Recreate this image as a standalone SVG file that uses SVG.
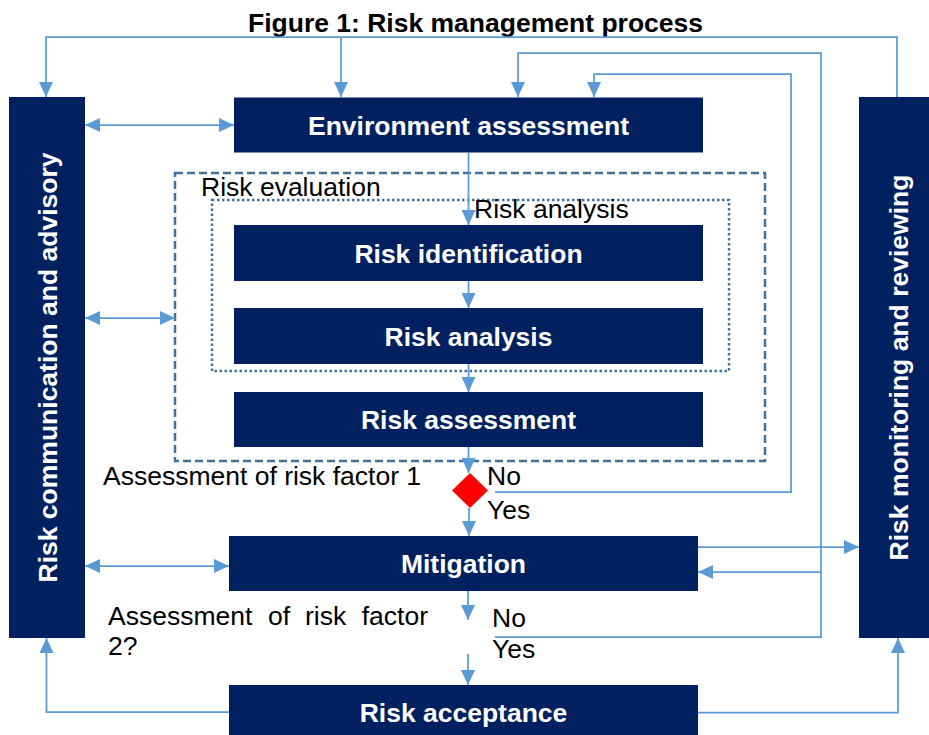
<svg xmlns="http://www.w3.org/2000/svg" width="929" height="735" viewBox="0 0 929 735">
<style>
.box{fill:#002060;}
.bt{font-family:"Liberation Sans",Arial,sans-serif;font-weight:bold;font-size:26.5px;fill:#ffffff;text-anchor:middle;}
.lbl{font-family:"Liberation Sans",Arial,sans-serif;font-size:26.5px;fill:#000000;}
.title{font-family:"Liberation Sans",Arial,sans-serif;font-weight:bold;font-size:26.5px;fill:#000000;text-anchor:middle;}
.ln{fill:none;stroke:#5b9bd5;stroke-width:1.75;}
.dash{fill:none;stroke:#41719c;stroke-width:2.5;stroke-dasharray:8 4;}
.dot{fill:none;stroke:#41719c;stroke-width:2.5;stroke-dasharray:2.5 2.5;}
</style>
<defs>
<marker id="ah" markerUnits="userSpaceOnUse" markerWidth="15" markerHeight="14" refX="15" refY="7" orient="auto-start-reverse" viewBox="0 0 15 14">
<path d="M0,0 L15,7 L0,14 Z" fill="#5b9bd5"/>
</marker>
</defs>
<rect width="929" height="735" fill="#ffffff"/>
<text class="title" x="475.5" y="31.5">Figure 1: Risk management process</text>

<g id="risk-evaluation-frame">
<rect class="dash" x="175" y="173" width="590" height="288"/>
<text class="lbl" x="201" y="196">Risk evaluation</text>
</g>
<g id="risk-analysis-frame">
<rect class="dot" x="212" y="200" width="517" height="171"/>
<text class="lbl" x="474" y="218">Risk analysis</text>
</g>

<g id="connectors">
<path class="ln" d="M897,97 V37 H46 V97" marker-end="url(#ah)"/>
<path class="ln" d="M341,37 V97" marker-end="url(#ah)"/>
<path class="ln" d="M495,637 H821 V53 H518 V97" marker-end="url(#ah)"/>
<path class="ln" d="M495,492 H791 V74 H594 V97" marker-end="url(#ah)"/>
<path class="ln" d="M85,125 H234" marker-start="url(#ah)" marker-end="url(#ah)"/>
<path class="ln" d="M85,318 H175" marker-start="url(#ah)" marker-end="url(#ah)"/>
<path class="ln" d="M85,566 H229" marker-start="url(#ah)" marker-end="url(#ah)"/>
<path class="ln" d="M468.5,153 V225" marker-end="url(#ah)"/>
<path class="ln" d="M468.5,281 V308" marker-end="url(#ah)"/>
<path class="ln" d="M468.5,364 V392" marker-end="url(#ah)"/>
<path class="ln" d="M468.5,447 V473" marker-end="url(#ah)"/>
<path class="ln" d="M469,508 V536" marker-end="url(#ah)"/>
<path class="ln" d="M468,591 V620" marker-end="url(#ah)"/>
<path class="ln" d="M468,654 V685" marker-end="url(#ah)"/>
<path class="ln" d="M698,547 H859" marker-end="url(#ah)"/>
<path class="ln" d="M821,572 H698" marker-end="url(#ah)"/>
<path class="ln" d="M229,712 H46.5 V638" marker-end="url(#ah)"/>
<path class="ln" d="M698,712.5 H898 V638" marker-end="url(#ah)"/>
</g>

<g id="risk-communication">
<rect class="box" x="9" y="97" width="76" height="541"/>
<text class="bt" transform="translate(56.5,367.5) rotate(-90)">Risk communication and advisory</text>
</g>
<g id="risk-monitoring">
<rect class="box" x="859" y="97" width="80" height="541"/>
<text class="bt" transform="translate(908,367.5) rotate(-90)">Risk monitoring and reviewing</text>
</g>
<g id="environment-assessment">
<rect class="box" x="234" y="97.5" width="469" height="55"/>
<text class="bt" x="468.5" y="135">Environment assessment</text>
</g>
<g id="risk-identification">
<rect class="box" x="234" y="225" width="469" height="56"/>
<text class="bt" x="468.5" y="262.5">Risk identification</text>
</g>
<g id="risk-analysis">
<rect class="box" x="234" y="308" width="469" height="56"/>
<text class="bt" x="468.5" y="345.5">Risk analysis</text>
</g>
<g id="risk-assessment">
<rect class="box" x="234" y="392" width="469" height="55"/>
<text class="bt" x="468.5" y="428.5">Risk assessment</text>
</g>
<g id="decision-1">
<polygon points="470,473 488,490.5 470,508 452,490.5" fill="#ff0000"/>
<text class="lbl" x="103" y="485">Assessment of risk factor 1</text>
<text class="lbl" x="487" y="485">No</text>
<text class="lbl" x="487" y="519">Yes</text>
</g>
<g id="mitigation">
<rect class="box" x="229" y="536" width="469" height="55"/>
<text class="bt" x="463.5" y="572.5">Mitigation</text>
</g>
<g id="decision-2">
<text class="lbl" y="625"><tspan x="108">Assessment</tspan><tspan x="268">of</tspan><tspan x="305">risk</tspan><tspan x="428" text-anchor="end">factor</tspan></text>
<text class="lbl" x="108" y="654.5">2?</text>
<text class="lbl" x="492" y="627">No</text>
<text class="lbl" x="492" y="658">Yes</text>
</g>
<g id="risk-acceptance">
<rect class="box" x="229" y="685" width="469" height="60"/>
<text class="bt" x="463.5" y="722">Risk acceptance</text>
</g>
</svg>
